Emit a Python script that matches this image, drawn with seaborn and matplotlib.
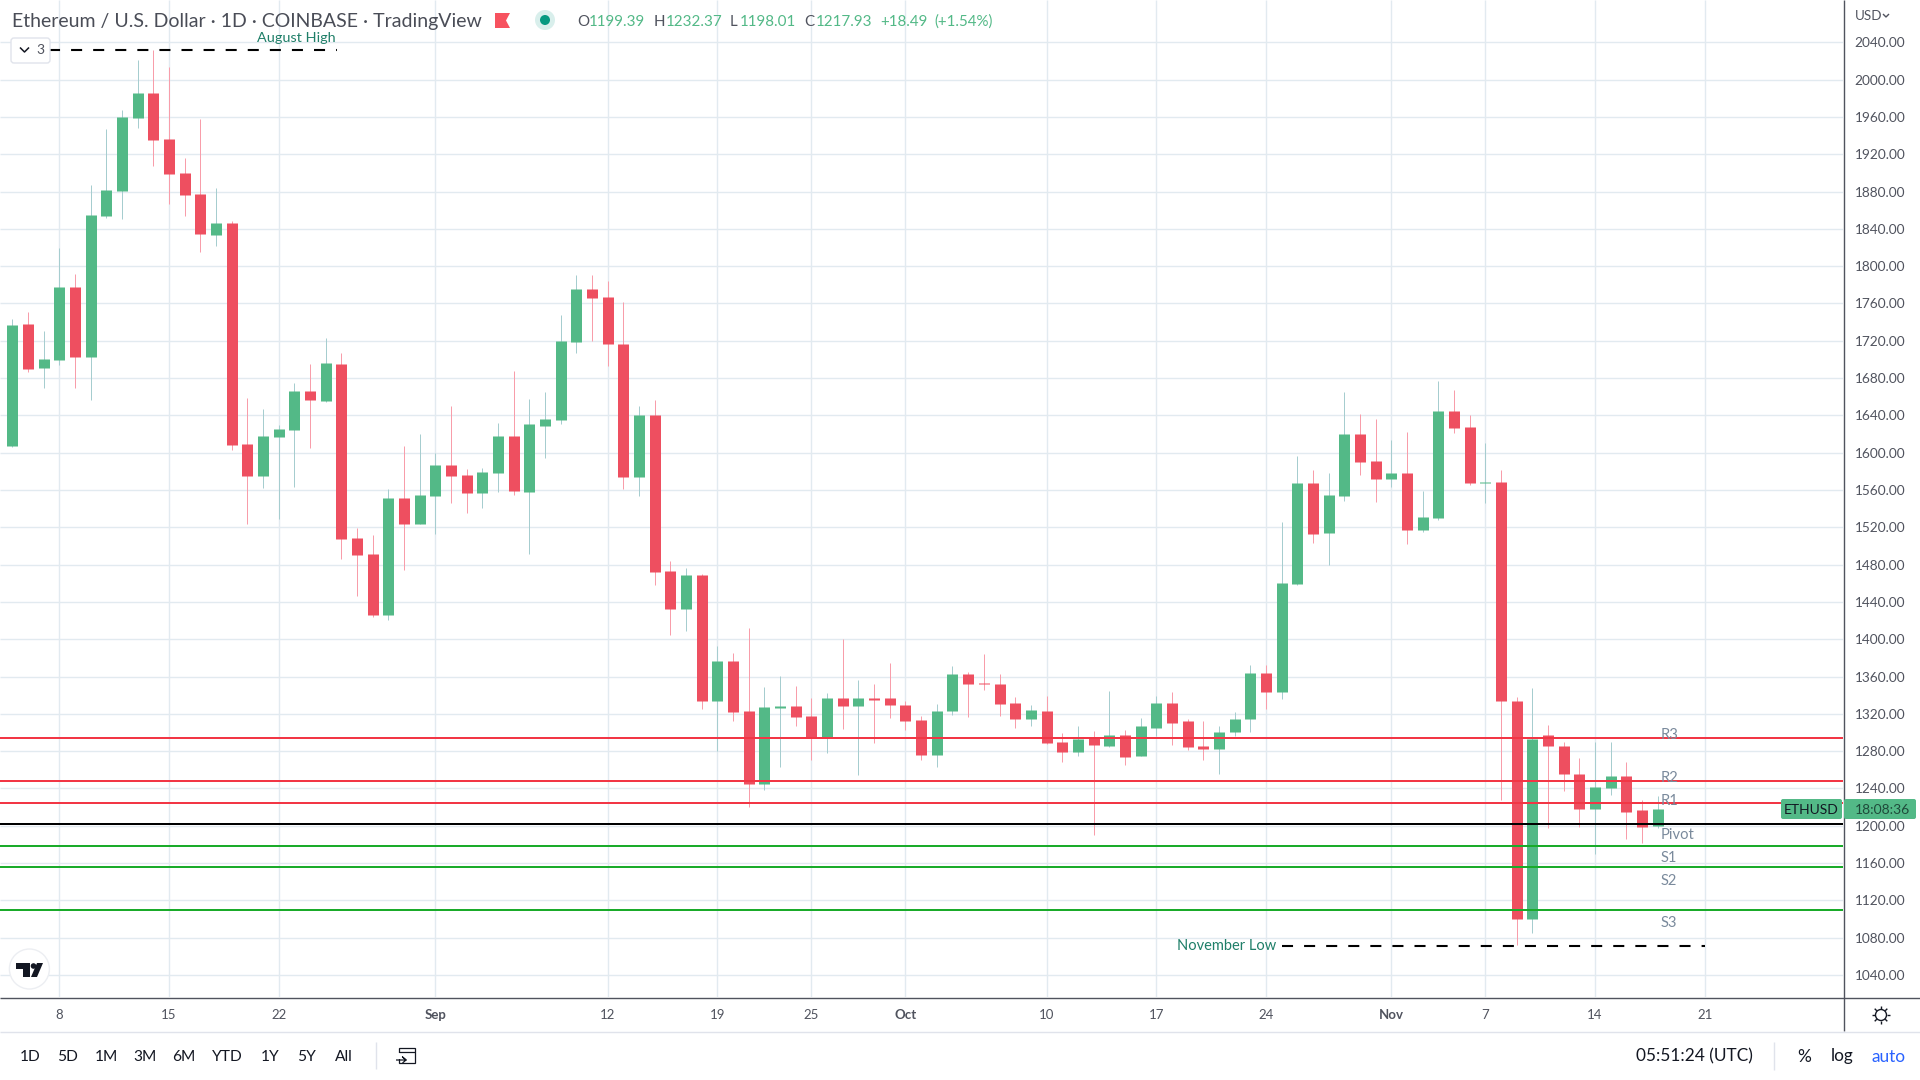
"""ETH/USD daily candles with pivot levels, TradingView style."""
import matplotlib
matplotlib.use("Agg")
import matplotlib.dates as mdates
import matplotlib.pyplot as plt
import matplotlib.transforms as mtransforms
import pandas as pd
import seaborn as sns
from matplotlib.lines import Line2D
from matplotlib.patches import Circle, FancyBboxPatch, Polygon, Rectangle

DATES = pd.date_range("2022-08-04", periods=107)
OPEN = [1619, 1607, 1738, 1691, 1699, 1778, 1703, 1854, 1881, 1959, 1986, 1936, 1900, 1877.5, 1833.5, 1846, 1609, 1575,
        1617, 1624, 1666, 1655, 1695, 1508.5, 1491, 1426, 1551.5, 1523.5,
        1553.5, 1587, 1576, 1557, 1578, 1618, 1558, 1629, 1635, 1719, 1776, 1767, 1717, 1574, 1640, 1473, 1432.5, 1469,
        1334, 1377, 1323.5, 1245, 1326, 1328, 1318, 1294.5, 1337.5, 1328, 1337.5, 1336.5,
        1329, 1313, 1276, 1323.5, 1363, 1353.5, 1352.5, 1332, 1315, 1323.5, 1290, 1279.5, 1294.5, 1286, 1297, 1275,
        1305, 1332, 1312, 1286, 1282, 1300, 1314, 1364, 1343, 1459.5, 1567, 1514, 1554, 1620, 1591,
        1572, 1578.5, 1517.5, 1530, 1645, 1628, 1568, 1569, 1334, 1100, 1297, 1286, 1256, 1218.5, 1241, 1253, 1216.5, 1199.39]
HIGH = [1625, 1743, 1751, 1730, 1819, 1792, 1887, 1947, 1967.5, 2021, 2032, 2013.5, 1916, 1958, 1883.5, 1848.5, 1658.5, 1647,
        1630, 1675, 1695, 1723, 1707, 1519, 1512, 1561, 1607, 1620,
        1600, 1650, 1582.5, 1583.5, 1632, 1687.5, 1658, 1665, 1748, 1791, 1791, 1784, 1762, 1650, 1656, 1484, 1476.5, 1470,
        1393, 1385, 1412.5, 1349, 1361, 1350, 1337.5, 1342, 1400.5, 1356, 1352.5, 1374,
        1334, 1318, 1331, 1371, 1365, 1384.5, 1363, 1338.5, 1330, 1339.5, 1299, 1307.5, 1302, 1345, 1303, 1316,
        1339.5, 1343, 1315, 1312, 1307.5, 1321.5, 1372, 1372, 1526, 1596, 1581, 1578.5, 1665, 1641, 1636.5,
        1614, 1622.5, 1559, 1677, 1667.5, 1640, 1610, 1581, 1338, 1348, 1308.5, 1290, 1273, 1290, 1290, 1268, 1228, 1232.37]
LOW = [1603, 1606, 1686, 1669, 1694, 1669, 1656, 1852, 1851, 1948, 1907.5, 1867, 1854, 1815, 1822, 1603, 1523.5, 1562,
       1529, 1563, 1605, 1654, 1486, 1446, 1424, 1421, 1474, 1523.5,
       1513, 1546, 1535, 1541, 1558, 1555, 1491, 1594, 1631, 1707, 1720, 1693, 1561, 1554, 1458.5, 1404.5, 1409, 1325,
       1280, 1312.5, 1220.5, 1238, 1262.5, 1307, 1270, 1278.5, 1304, 1254, 1289, 1316,
       1303, 1270, 1263.5, 1319, 1317, 1346, 1318, 1304.5, 1307.5, 1288, 1268, 1275, 1190.5, 1284, 1265, 1275,
       1296, 1287, 1281, 1271, 1255, 1296, 1300, 1325, 1335.5, 1458.5, 1503.5, 1480, 1548.5, 1576.5, 1547.5,
       1563.5, 1502.5, 1515, 1528, 1621.5, 1565, 1546.5, 1228, 1072, 1085, 1198, 1237, 1199, 1170, 1233.5, 1186, 1182, 1198.01]
CLOSE = [1607, 1737, 1690, 1700, 1777.5, 1703, 1855, 1882, 1960, 1986, 1935, 1899, 1876, 1835, 1846, 1608, 1575, 1618,
         1625, 1666, 1656, 1696, 1507.5, 1490, 1426, 1551.5, 1523.5, 1555,
         1587, 1575, 1557, 1579, 1618, 1559, 1631, 1636.5, 1720, 1776, 1766, 1717, 1574, 1640, 1472.5, 1432.5, 1469, 1334,
         1377, 1322, 1245, 1327, 1328, 1317, 1294.5, 1337.5, 1328, 1337.5, 1335, 1329,
         1312, 1276, 1323.5, 1363, 1352.5, 1351.5, 1331, 1315, 1324.5, 1289, 1279.5, 1293.5, 1287, 1297, 1274, 1306.5,
         1332, 1310.5, 1284, 1282, 1301, 1315, 1364, 1343, 1460.5, 1567, 1513, 1555, 1620, 1590, 1572,
         1578.5, 1517.5, 1531.5, 1645, 1627, 1568, 1569, 1334, 1100, 1293.5, 1285, 1255, 1218.5, 1242, 1253, 1215, 1199, 1217.93]

RESISTANCE = [1294.0, 1247.8, 1224.2]
PIVOT = 1201.7
SUPPORT = [1178.2, 1155.7, 1109.5]
AUGUST_HIGH = 2032
NOVEMBER_LOW = 1071

PRICE_TICKS = list(range(1040, 2041, 40))
DATE_TICKS = ["2022-08-08", "2022-08-15", "2022-08-22", "2022-09-01", "2022-09-12", "2022-09-19", "2022-09-25",
              "2022-10-01", "2022-10-10", "2022-10-17", "2022-10-24", "2022-11-01", "2022-11-07", "2022-11-14",
              "2022-11-21"]
DATE_LABELS = ["8", "15", "22", "Sep", "12", "19", "25", "Oct", "10", "17", "24", "Nov", "7", "14", "21"]
RANGES = ["1D", "5D", "1M", "3M", "6M", "YTD", "1Y", "5Y", "All"]

UP, DOWN = "#53b987", "#ee4f60"
UP_WICK, DOWN_WICK = "#a6cdcf", "#f89daa"
RED_LINE, GREEN_LINE = "#f23645", "#1aab2a"
GRID = "#e2eaf0"
AXIS = "#50535e"
TEAL = "#1f7f68"
FONT = "Lato"

sns.set_theme(style="white", rc={"font.family": FONT, "lines.solid_capstyle": "butt"})

rows = pd.DataFrame({"date": DATES, "open": OPEN, "high": HIGH, "low": LOW, "close": CLOSE})
rows["dir"] = ["up" if c >= o else "down" for o, c in zip(OPEN, CLOSE)]
wicks = rows.melt(id_vars=["date", "dir"], value_vars=["low", "high"], value_name="price")
bodies = rows.melt(id_vars=["date", "dir"], value_vars=["open", "close"], value_name="price")

fig = plt.figure(figsize=(19.2, 10.8), dpi=100, facecolor="white")
px = mtransforms.Affine2D().scale(1 / 1920, -1 / 1080).translate(0, 1) + fig.transFigure
ax = fig.add_axes([0, 83 / 1080, 1843 / 1920, 997 / 1080])

sns.lineplot(data=wicks, x="date", y="price", units="date", hue="dir", palette={"up": UP_WICK, "down": DOWN_WICK},
             estimator=None, errorbar=None, sort=False, lw=0.72, legend=False, ax=ax, zorder=3)
sns.lineplot(data=bodies, x="date", y="price", units="date", hue="dir", palette={"up": UP, "down": DOWN},
             estimator=None, errorbar=None, sort=False, lw=7.92, legend=False, ax=ax, zorder=4)

for level in RESISTANCE:
    ax.axhline(level, color=RED_LINE, lw=1.44, zorder=5)
ax.axhline(PIVOT, color="black", lw=1.44, zorder=5)
for level in SUPPORT:
    ax.axhline(level, color=GREEN_LINE, lw=1.44, zorder=5)
ax.hlines(AUGUST_HIGH, pd.Timestamp("2022-08-07 08:00"), pd.Timestamp("2022-08-25 18:00"), color="black", lw=1.5,
          linestyle=(0, (5.3, 5.3)), zorder=5)
ax.hlines(NOVEMBER_LOW, pd.Timestamp("2022-10-25"), pd.Timestamp("2022-11-21"), color="black", lw=1.5,
          linestyle=(0, (5.3, 5.3)), zorder=5)

x0 = mdates.date2num(pd.Timestamp("2022-08-08"))
ax.set_xlim(x0 - 59.3 / 15.67, x0 + (1843 - 59.3) / 15.67)
ax.set_ylim(2040 - (997 - 42.3) / 0.9327, 2040 + 42.3 / 0.9327)
ax.set_xticks([mdates.date2num(pd.Timestamp(d)) for d in DATE_TICKS])
ax.set_xticklabels(DATE_LABELS, fontsize=9.5, color=AXIS)
ax.set_yticks(PRICE_TICKS)
ax.set_yticklabels([f"{p:.2f}" for p in PRICE_TICKS], fontsize=9.8, color=AXIS)
ax.yaxis.tick_right()
ax.tick_params(axis="x", length=0, pad=8.5)
ax.tick_params(axis="y", length=0, pad=8.5)
for lab in ax.get_xticklabels():
    if lab.get_text() in ("Sep", "Oct", "Nov"):
        lab.set_fontweight("bold")
ax.grid(True, color=GRID, lw=1)
ax.set_axisbelow(True)
ax.set_xlabel("")
ax.set_ylabel("")
sns.despine(ax=ax, left=True, right=True, top=True, bottom=True)

# frame around the pane
fig.add_artist(Line2D([0, 1920], [997.5, 997.5], transform=px, color=AXIS, lw=1))
fig.add_artist(Line2D([1843.5, 1843.5], [0, 1031], transform=px, color=AXIS, lw=1))
fig.add_artist(Line2D([0, 1920], [1031.5, 1031.5], transform=px, color="#e0e3eb", lw=1))

# header
fig.text(12, 22, "Ethereum / U.S. Dollar · 1D · COINBASE · TradingView", transform=px, fontsize=14.0, color="#4a4d57",
         va="center", ha="left")
fig.add_artist(Polygon([(495, 13), (510, 13), (506, 20.5), (510, 28), (495, 28)], transform=px, color="#f7525f", lw=0))
fig.add_artist(Circle((545, 20), 10, transform=px, color="#d9efec", lw=0))
fig.add_artist(Circle((545, 20), 5, transform=px, color="#089981", lw=0))
for x, s, col in [(577, "O", AXIS), (589, "1199.39", UP), (654, "H", AXIS), (666, "1232.37", UP), (730, "L", AXIS),
                  (740, "1198.01", UP), (804, "C", AXIS), (816, "1217.93", UP), (880, "+18.49", UP),
                  (934, "(+1.54%)", UP)]:
    fig.text(x, 22, s, transform=px, fontsize=10.9, color=col, va="center", ha="left")
fig.text(296, 37.5, "August High", transform=px, fontsize=10.4, color=TEAL, va="center", ha="center")
fig.text(1177, 946.5, "November Low", transform=px, fontsize=10.5, color=TEAL, va="center", ha="left")

# collapsed indicators box
fig.add_artist(FancyBboxPatch((13, 40), 35, 21, boxstyle="round,pad=2,rounding_size=3", transform=px, fc="white",
                              ec="#e0e3eb", lw=1, zorder=6))
fig.add_artist(Line2D([20, 24.5, 29], [47.5, 52, 47.5], transform=px, color="#131722", lw=1.1, zorder=7))
fig.text(40, 50.5, "3", transform=px, fontsize=10, color=AXIS, va="center", ha="center", zorder=7)

# pivot labels
for y, s in [(735, "R3"), (778, "R2"), (801, "R1"), (835, "Pivot"), (858, "S1"), (881, "S2"), (923, "S3")]:
    fig.text(1661, y, s, transform=px, fontsize=10.6, color="#7a8a9c", va="center", ha="left", zorder=8)

# price pill
fig.add_artist(FancyBboxPatch((1783, 801), 57, 16, boxstyle="round,pad=2,rounding_size=2", transform=px, fc=UP, ec=UP,
                              lw=0, zorder=8))
fig.add_artist(FancyBboxPatch((1846, 801), 68, 16, boxstyle="round,pad=2,rounding_size=2", transform=px, fc=UP, ec=UP,
                              lw=0, zorder=8))
fig.text(1811.5, 810.5, "ETHUSD", transform=px, fontsize=10, color="#131722", va="center", ha="center", zorder=9)
fig.text(1882, 810.5, "18:08:36", transform=px, fontsize=10, color="#1f4a3a", va="center", ha="center", zorder=9)
fig.text(1855, 16, "USD", transform=px, fontsize=9.6, color=AXIS, va="center", ha="left")
fig.add_artist(Line2D([1883, 1886, 1889], [14, 17, 14], transform=px, color=AXIS, lw=1))

# TradingView badge
fig.add_artist(Circle((29.4, 969), 20, transform=px, fc="white", ec="#eceef2", lw=1, zorder=6))
fig.add_artist(Polygon([(16, 963), (30, 963), (30, 977), (23, 977), (23, 969), (16, 969)], transform=px, color="#131722",
                       lw=0, zorder=7))
fig.add_artist(Circle((33.5, 966), 2.8, transform=px, color="#131722", lw=0, zorder=7))
fig.add_artist(Polygon([(37, 963), (43, 963), (37, 977), (31, 977)], transform=px, color="#131722", lw=0, zorder=7))

# bottom toolbar
for x, s in zip([30, 68, 106.5, 145, 184, 227, 270, 306.5, 344], RANGES):
    fig.text(x, 1057, s, transform=px, fontsize=11.2, color="#131722", va="center", ha="center")
fig.add_artist(Line2D([375.5, 375.5], [1042, 1069], transform=px, color="#e0e3eb", lw=1))
fig.add_artist(Rectangle((399, 1048), 16, 15, transform=px, fc="none", ec="#131722", lw=0.9))
fig.add_artist(Rectangle((396, 1053), 8, 6, transform=px, fc="white", ec="white", lw=0))
fig.add_artist(Line2D([399, 415], [1052, 1052], transform=px, color="#131722", lw=0.9))
fig.add_artist(Line2D([396, 406, 402.5, 406, 402.5], [1060, 1060, 1057, 1060, 1063], transform=px, color="#131722", lw=0.9))
fig.text(1694.5, 1056.5, "05:51:24 (UTC)", transform=px, fontsize=12.4, color="#131722", va="center", ha="center")
fig.add_artist(Line2D([1774, 1774], [1042, 1070], transform=px, color="#e0e3eb", lw=1))
fig.text(1804, 1056.5, "%", transform=px, fontsize=12.4, color="#131722", va="center", ha="center")
fig.text(1842, 1056.5, "log", transform=px, fontsize=12.4, color="#131722", va="center", ha="center")
fig.text(1889, 1056.5, "auto", transform=px, fontsize=12.4, color="#2962ff", va="center", ha="center")

# settings gear
fig.add_artist(Circle((1881, 1015), 5.5, transform=px, fc="none", ec="#131722", lw=1))
for dx, dy in [(0, 1), (0, -1), (1, 0), (-1, 0), (0.7, 0.7), (-0.7, 0.7), (0.7, -0.7), (-0.7, -0.7)]:
    fig.add_artist(Line2D([1881 + 6 * dx, 1881 + 9 * dx], [1015 + 6 * dy, 1015 + 9 * dy], transform=px, color="#131722", lw=1))

fig.savefig("out.png", dpi=100)
